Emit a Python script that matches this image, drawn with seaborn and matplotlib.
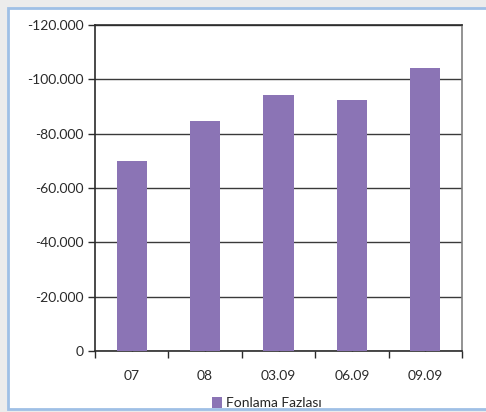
import matplotlib
matplotlib.use("Agg")
import matplotlib.pyplot as plt
from matplotlib.patches import Rectangle
from matplotlib.ticker import FuncFormatter, FixedLocator
import seaborn as sns
import pandas as pd

periods = ["07", "08", "03.09", "06.09", "09.09"]
fonlama_fazlasi = [-70000, -84700, -94200, -92400, -104200]
series_name = "Fonlama Fazlası"
y_ticks = [0, -20000, -40000, -60000, -80000, -100000, -120000]

sns.set_style("white")
plt.rcParams["font.family"] = ["Lato", "DejaVu Sans"]

df = pd.DataFrame({"period": periods, "value": fonlama_fazlasi})

fig = plt.figure(figsize=(4.86, 4.12), dpi=100)
fig.patch.set_facecolor("#ececec")
# white panel with light blue frame
fig.patches.append(Rectangle((8 / 486, 3 / 412), 490 / 486, 401 / 412,
                             transform=fig.transFigure, facecolor="white",
                             edgecolor="#9fc0e6", linewidth=2, zorder=-5))

ax = fig.add_axes([95 / 486, 61 / 412, 367 / 486, 326 / 412])
ax.set_zorder(2)
ax.patch.set_alpha(0)
bar_color = "#8b74b5"
sns.barplot(data=df, x="period", y="value", color=bar_color, width=0.41,
            saturation=1, linewidth=0, edgecolor="none", ax=ax, zorder=3)

ax.set_ylim(0, -120000)
ax.set_xlim(-0.5, len(periods) - 0.5)
ax.yaxis.set_major_locator(FixedLocator(y_ticks))
ax.yaxis.set_major_formatter(FuncFormatter(lambda v, p: f"{int(v):,}".replace(",", ".")))
ax.grid(axis="y", color="#3a3a3a", linewidth=1, zorder=1)
ax.set_axisbelow(True)
ax.set_xlabel("")
ax.set_ylabel("")

for side in ["left", "bottom", "top"]:
    ax.spines[side].set_visible(True)
    ax.spines[side].set_color("#2b2b2b")
    ax.spines[side].set_linewidth(1.2)
ax.spines["right"].set_visible(True)
ax.spines["right"].set_color("#808080")
ax.spines["right"].set_linewidth(1.2)

ax.tick_params(axis="y", direction="out", length=5, width=1, color="#2b2b2b",
               labelsize=10, pad=3, labelcolor="#2a2a2a", left=True)
# category labels at centres, tick marks at the boundaries
ax.set_xticks(range(len(periods)))
ax.set_xticklabels(periods)
ax.tick_params(axis="x", which="major", length=4, direction="in", width=1,
               color="#2b2b2b", labelsize=10, pad=14, labelcolor="#2a2a2a",
               bottom=True)
ax.set_xticks([i - 0.5 for i in range(len(periods) + 1)], minor=True)
ax.tick_params(axis="x", which="minor", length=5, direction="out", width=1,
               color="#2b2b2b", bottom=True)

handle = Rectangle((0, 0), 1, 1, facecolor=bar_color, edgecolor="none")
fig.legend([handle], [series_name], loc="center", bbox_to_anchor=(0.55, 0.022),
           frameon=False, fontsize=10, handlelength=0.7, handleheight=0.9,
           handletextpad=0.3, borderaxespad=0)

fig.savefig("out.png", dpi=100, facecolor=fig.get_facecolor())
